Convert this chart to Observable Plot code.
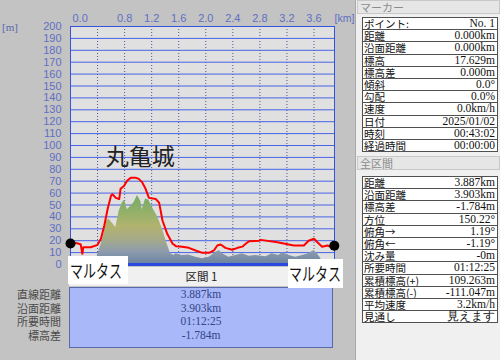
<!DOCTYPE html>
<html><head><meta charset="utf-8">
<script src="https://cdn.jsdelivr.net/npm/d3@7"></script>
<script src="https://cdn.jsdelivr.net/npm/@observablehq/plot@0.6"></script>
<style>
body{margin:0;width:500px;height:360px;overflow:hidden;background:#c3c3c3;position:relative;font-family:"Noto Sans CJK JP",sans-serif;}
#chart{position:absolute;left:0;top:0;}
.abs{position:absolute;}
#ylab{left:2px;top:21px;font:11px "Liberation Serif",serif;color:#5a66b0;}
#band{left:69px;top:267px;width:265px;height:19px;background:#f0f0f0;font-size:11.5px;line-height:19px;text-align:center;color:#222;}
#bluebox{left:69px;top:287px;width:262px;height:59px;background:#a8b8f8;border:1px solid #5868a8;font:11.5px "Liberation Serif",serif;color:#344488;text-align:center;line-height:13.6px;}
#leftlabs{left:0;top:288px;width:61px;text-align:right;font-size:11px;line-height:13.6px;color:#4a4a4a;}
.place{background:#fff;color:#111;box-sizing:border-box;}
.place span{display:inline-block;font-size:18px;line-height:28px;white-space:nowrap;transform:scaleX(0.72);transform-origin:0 50%;}
#panel{left:355px;top:0;width:145px;height:360px;background:#f0f0f0;border-left:1px solid #a8a8a8;box-sizing:border-box;}
.hdr{position:absolute;left:1px;width:143px;height:14px;background:#e6e6e6;border:1px solid #c8c8c8;box-sizing:border-box;font-size:11px;line-height:12px;color:#8c8c8c;padding-left:2px;}
.tbl{position:absolute;left:6px;width:136px;border:1px solid #505050;border-top:none;box-sizing:border-box;}
.row{height:12.2px;background:#fff;border-top:1px solid #505050;box-sizing:border-box;position:relative;}
.row .l{position:absolute;left:1px;top:0;height:11px;display:block;font-size:10.5px;line-height:11px;color:#111;}
.row .v{position:absolute;right:2px;top:0;height:11px;display:block;font-family:"Liberation Serif",serif;font-size:11.5px;line-height:11px;color:#111;}
</style></head><body>
<div id="chart" class="abs"></div>
<script>
// elevation profile of the track (km, m)
const trackKm = [0.00,0.08,0.15,0.175,0.19,0.30,0.40,0.45,0.50,0.55,0.60,0.62,0.67,0.72,0.74,0.79,0.84,0.89,0.96,1.01,1.06,1.11,1.16,1.26,1.31,1.36,1.43,1.51,1.56,1.65,1.75,1.85,1.95,2.05,2.12,2.17,2.22,2.29,2.39,2.47,2.54,2.59,2.64,2.79,2.81,3.06,3.30,3.45,3.52,3.60,3.65,3.72,3.80,3.87,3.90];
const trackElev = [17.6,18,17,9,14.5,14.5,16.5,21.6,32.8,46.8,58,59,56,55,63.6,66,70.6,72.8,73,72,69,63.6,56,55,52,37,25.8,17.4,15.4,15,14,11.8,9.8,9.8,11.8,16,16.8,14,12.4,14,15,17.4,19.6,20,20.7,18.7,16,16,20,21.6,18.7,15,16,14.5,15.8];
// terrain / surface cross-section below the track
const terrainKm = [0.37,0.40,0.47,0.54,0.57,0.67,0.72,0.77,0.80,0.84,0.89,0.94,0.99,1.04,1.06,1.11,1.16,1.21,1.28,1.33,1.38,1.43,1.48,1.53,1.56,1.65,1.75,1.85,1.95,2.05,2.15,2.20,2.25,2.34,2.44,2.54,2.64,2.74,2.89,2.98,3.08,3.13,3.23,3.33,3.43,3.52,3.60,3.65,3.70,3.72];
const terrainElev = [0,8,20,37,38,31,45,52,54,46,49,52,58,53,46,55,54,48,41,34,26,17,9,7.5,9,7.5,8,6,4.8,6,10.3,11.8,9,6,7.5,9,7,7.5,6.5,9,7.5,10,7.5,6,7.5,9,11.8,9,5,0];
const totalKm = 3.903;
const yTicks = d3.range(0, 201, 10);
const xGridKm = [0.4,0.8,1.2,1.6,2.0,2.4,2.8,3.2,3.6];
const xLabelKm = [0.8,1.2,1.6,2.0,2.4,2.8,3.2,3.6];
const xLabelText = ["0.8","1.2","1.6","2.0","2.4","2.8","3.2","3.6"];
const xFirstLabel = "0.0";
const xUnit = "[km]";
const yUnit = "[m]";
const landmarkName = ["丸亀城"];
const landmarkKm = [1.03];
const landmarkM = [90];
const placeNames = ["マルタス","マルタス"];
const sectionTitle = "区間 1";
const sectionLabels = ["直線距離","沿面距離","所要時間","標高差"];
const sectionValues = ["3.887km","3.903km","01:12:25","-1.784m"];
const markerTitle = "マーカー";
const markerLabels = ["ポイント:","距離","沿面距離","標高","標高差","傾斜","勾配","速度","日付","時刻","経過時間"];
const markerValues = ["No. 1","0.000km","0.000km","17.629m","0.000m","0.0°","0.0%","0.0km/h","2025/01/02","00:43:02","00:00:00"];
const totalTitle = "全区間";
const totalLabels = ["距離","沿面距離","標高差","方位","俯角→","俯角←","沈み量","所要時間","累積標高(+)","累積標高(-)","平均速度","見通し"];
const totalValues = ["3.887km","3.903km","-1.784m","150.22°","1.19°","-1.19°","-0m","01:12:25","109.263m","-111.047m","3.2km/h","見えます"];

const track = trackKm.map((x, i) => ({x, y: trackElev[i]}));
const terrain = terrainKm.map((x, i) => ({x, y: terrainElev[i]}));
const landmarks = landmarkName.map((name, i) => ({name, km: landmarkKm[i], m: landmarkM[i]}));
const tickFont = '"Liberation Sans", sans-serif';
const tickColor = "#5f6fc4";

const chart = Plot.plot({
  width: 355, height: 290,
  marginLeft: 70, marginRight: 21, marginTop: 26, marginBottom: 26,
  style: {background: "transparent", overflow: "visible", fontFamily: tickFont, fontSize: "11px"},
  x: {domain: [0, totalKm], axis: null},
  y: {domain: [0, 200], axis: null},
  marks: [
    Plot.frame({fill: "#e0e0e0", stroke: null}),
    Plot.ruleX(xGridKm, {stroke: "#4a5890", strokeDasharray: "1,2", strokeWidth: 1}),
    Plot.ruleY(yTicks, {stroke: "#4763e6", strokeWidth: 1}),
    Plot.areaY(terrain, {x: "x", y: "y", fill: "url(#terrainGrad)"}),
    Plot.lineY(track, {x: "x", y: "y", stroke: "#ff0000", strokeWidth: 2}),
    Plot.frame({stroke: "#3553e0"}),
    Plot.ruleY([0], {stroke: "#2a48e0", strokeWidth: 3}),
    Plot.dot([track[0], track[track.length - 1]], {x: "x", y: "y", r: 5, fill: "#000"}),
    Plot.text(yTicks, {y: d => d, text: d => String(d), frameAnchor: "left", textAnchor: "end", dx: -9, fill: tickColor}),
    Plot.text(xLabelKm, {x: d => d, text: (d, i) => xLabelText[i], frameAnchor: "top", dy: -12, fill: tickColor}),
    Plot.text([xFirstLabel], {x: () => 0, text: d => d, frameAnchor: "top", textAnchor: "start", dx: 2, dy: -12, fill: tickColor}),
    Plot.text([xUnit], {text: d => d, frameAnchor: "top-right", textAnchor: "start", dx: 0, dy: -12, fill: tickColor, fontSize: 10.5}),
    Plot.text(landmarks, {x: "km", y: "m", text: "name", fontSize: 23, fill: "#222", fontFamily: '"Noto Sans CJK JP", sans-serif'})
  ]
});

// vertical gradient for terrain, by elevation
const ys = chart.scale("y");
const ns = "http://www.w3.org/2000/svg";
const defs = document.createElementNS(ns, "defs");
const grad = document.createElementNS(ns, "linearGradient");
grad.setAttribute("id", "terrainGrad");
grad.setAttribute("gradientUnits", "userSpaceOnUse");
grad.setAttribute("x1", 0); grad.setAttribute("x2", 0);
grad.setAttribute("y1", ys.apply(62)); grad.setAttribute("y2", ys.apply(0));
[[62, "#6ca862"], [46, "#8eb068"], [32, "#b0b36e"], [21, "#a6aa88"], [11, "#8e9cac"], [0, "#6a82a0"]].forEach(([e, c]) => {
  const s = document.createElementNS(ns, "stop");
  s.setAttribute("offset", (62 - e) / 62);
  s.setAttribute("stop-color", c);
  grad.appendChild(s);
});
defs.appendChild(grad);
chart.prepend(defs);
document.getElementById("chart").appendChild(chart);

function add(html, cls, id, style) {
  const d = document.createElement("div");
  d.className = cls; if (id) d.id = id; if (style) d.style.cssText = style;
  d.innerHTML = html; document.body.appendChild(d); return d;
}
add(yUnit, "abs", "ylab");
add(sectionTitle, "abs", "band");
add(sectionValues.join("<br>"), "abs", "bluebox");
add(sectionLabels.join("<br>"), "abs", "leftlabs");
add(`<span>${placeNames[0]}</span>`, "abs place", null, "left:68px;top:256px;width:60px;height:28px;padding-left:2px;");
add(`<span>${placeNames[1]}</span>`, "abs place", null, "left:288px;top:259px;width:55px;height:29px;padding-left:1px;");

const panel = add("", "abs", "panel");
function table(title, hdrTop, labels, values, top) {
  const h = document.createElement("div");
  h.className = "hdr"; h.style.top = hdrTop + "px"; h.textContent = title; panel.appendChild(h);
  const t = document.createElement("div");
  t.className = "tbl"; t.style.top = top + "px";
  labels.forEach((l, i) => {
    const r = document.createElement("div"); r.className = "row";
    r.innerHTML = `<span class="l">${l}</span><span class="v">${values[i]}</span>`;
    t.appendChild(r);
  });
  panel.appendChild(t);
}
table(markerTitle, 0, markerLabels, markerValues, 17);
table(totalTitle, 156, totalLabels, totalValues, 176);
</script>
</body></html>
